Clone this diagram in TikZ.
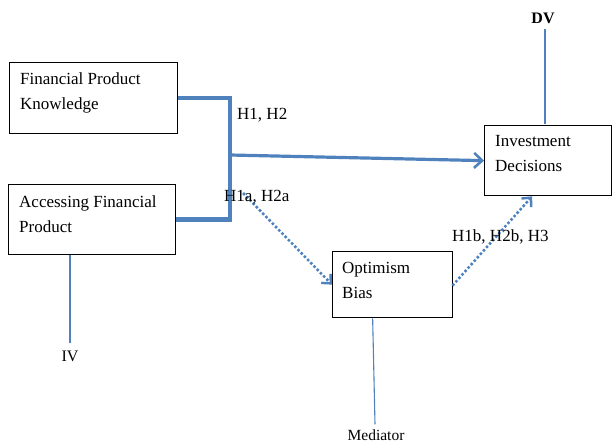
\documentclass[tikz,border=0pt]{standalone}
\usepackage{fontspec}
\setmainfont{Liberation Serif}
\usetikzlibrary{arrows.meta,calc}
\definecolor{lnblue}{HTML}{4F81BD}
\begin{document}
\begin{tikzpicture}[x=1pt,y=-1pt,
  box/.style={draw=black, line width=1.3pt, anchor=north west, inner sep=0pt},
  boxtext/.style={anchor=north west, align=left, inner sep=0pt, font=\fontsize{17}{25}\selectfont},
  lbl/.style={anchor=west, inner sep=0pt, font=\fontsize{17}{20}\selectfont},
  bracket/.style={draw=lnblue, line width=4.5pt},
  mainarrow/.style={draw=lnblue, line width=3.2pt, -{Straight Barb[length=8pt,width=15pt,line width=2.6pt]}},
  dotarrow/.style={draw=lnblue, line width=3.6pt, line cap=round, dash pattern=on 0pt off 4.6pt, -{Straight Barb[length=7pt,width=13pt,line width=2.4pt]}},
  thinline/.style={draw=lnblue, line width=1.1pt}]
\useasboundingbox (0,0) rectangle (612,444);
% boxes
\node[box, minimum width=168pt, minimum height=71pt] (fpk) at (9,62) {};
\node[box, minimum width=167pt, minimum height=70pt] (afp) at (8,184) {};
\node[box, minimum width=127pt, minimum height=70pt] (inv) at (484,125) {};
\node[box, minimum width=120pt, minimum height=66pt] (opt) at (332,251) {};
% box texts
\node[boxtext] (fpkt) at ($(fpk.north west)+(11,11)$) {Financial Product\\Knowledge};
\node[boxtext] (afpt) at ($(afp.north west)+(11,12)$) {Accessing Financial\\Product};
\node[boxtext] (invt) at ($(inv.north west)+(11,10)$) {Investment\\Decisions};
\node[boxtext] (optt) at ($(opt.north west)+(10,11)$) {Optimism\\Bias};
% coordinates
\coordinate (j) at (230,0);
\coordinate (h1) at (230,155);
\coordinate (d1) at (244,194);
% bracket
\draw[bracket] (fpk.east) -- (fpk.east -| j) -- (afp.east -| j) -- (afp.east);
% main arrow
\draw[mainarrow] (h1) -- (inv.west);
% dotted arrows
\draw[dotarrow] (d1) -- (opt.west);
\draw[dotarrow] (opt.east) -- ($(inv.south)+(-16,0)$);
% labels
\node[lbl] (l1) at (237,115) {H1, H2};
\node[lbl] (l2) at (224,197) {H1a, H2a};
\node[lbl] (l3) at (452,237) {H1b, H2b, H3};
% DV
\node[inner sep=2pt, font=\fontsize{16}{18}\selectfont\bfseries] (dv) at (543,18) {DV};
\draw[thinline] ($(dv.south)+(2,3)$) -- ($(dv.south |- inv.north)+(2,-1)$);
% IV
\node[inner sep=2pt, font=\fontsize{16}{18}\selectfont] (iv) at (70,356) {IV};
\draw[thinline] (afp.south -| iv) -- ($(iv.north)+(0,-5)$);
% Mediator
\node[inner sep=2pt, font=\fontsize{15.5}{18}\selectfont] (med) at (376,435) {Mediator};
\draw[thinline] ($(opt.south)+(-20,0)$) -- ($(med.north)+(-1,-3)$);
\end{tikzpicture}
\end{document}
